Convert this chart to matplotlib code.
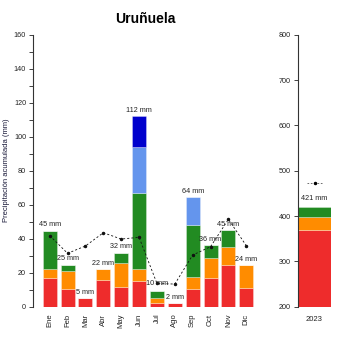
import matplotlib
matplotlib.use("Agg")
import matplotlib.pyplot as plt
import numpy as np

plt.rcParams['font.family'] = ['Liberation Sans', 'DejaVu Sans']

months = ["Ene", "Feb", "Mar", "Abr", "May", "Jun", "Jul", "Ago", "Sep", "Oct", "Nov", "Dic"]
# stacked components (mm)
red = [17, 10.2, 5, 16, 11.4, 15.3, 2, 2, 10.2, 17, 24.5, 11.2]
orange = [5, 11, 0, 6, 14.1, 6.7, 3.3, 0, 7.1, 11.5, 10.8, 13.3]
green = [22.5, 3.3, 0, 0, 6.3, 45, 4.1, 0, 30.7, 7.8, 9.7, 0]
lightblue = [0, 0, 0, 0, 0, 27, 0, 0, 16.7, 0, 0, 0]
darkblue = [0, 0, 0, 0, 0, 18.3, 0, 0, 0, 0, 0, 0]
totals = [45, 25, 5, 22, 32, 112, 10, 2, 64, 36, 45, 24]
reference = [41.8, 31.4, 35.7, 43.5, 39.8, 40.8, 13.7, 13.3, 30.4, 35.3, 51.4, 35.9]

year_label = ["2023"]
year_red = [369]
year_orange = [28]
year_green = [24]
year_total = [421]
year_reference = [472]

c_red = "#EE2C2C"
c_orange = "#FF8C00"
c_green = "#228B22"
c_lblue = "#6495ED"
c_dblue = "#0000CD"
text_col = "#222222"

fig = plt.figure(figsize=(3.5, 3.5), dpi=100)
W = H = 350.0
ax = fig.add_axes([33 / W, (350 - 306.7) / H, 230 / W, (306.7 - 34.7) / H])
ax2 = fig.add_axes([298 / W, (350 - 306.7) / H, 33 / W, (306.7 - 34.7) / H])

x = np.arange(len(months))
bw = 0.78
edge = dict(edgecolor=(1, 1, 1, 0.35), linewidth=0.6)
bottom = np.zeros(len(months))
for vals, col in [(red, c_red), (orange, c_orange), (green, c_green),
                  (lightblue, c_lblue), (darkblue, c_dblue)]:
    v = np.array(vals, dtype=float)
    ax.bar(x, v, bw, bottom=bottom, color=col, **edge)
    bottom = bottom + v

ax.plot(x, reference, color="#111111", linestyle=(0, (2.5, 2.5)), linewidth=0.6,
        marker="o", markersize=1.5, zorder=3)

for xi, t in zip(x, totals):
    ax.text(xi, t + 1.5, f"{t} mm", ha="center", va="bottom", fontsize=5.2, color=text_col)

ax.set_xlim(-0.935, len(months) - 1 + 0.935)
ax.set_ylim(0, 160)
ax.set_yticks(np.arange(0, 161, 20))
ax.set_yticks(np.arange(10, 160, 20), minor=True)
ax.tick_params(axis='y', which='both', length=3, width=0.6, labelsize=5.2, colors=text_col, pad=2)
ax.set_xticks(x)
ax.set_xticklabels(months, rotation=90)
ax.tick_params(axis='x', length=0, labelsize=5.5, colors=text_col, pad=5)
for s in ["top", "right", "bottom"]:
    ax.spines[s].set_visible(False)
ax.spines["left"].set_linewidth(0.8)
ax.spines["left"].set_color("#333333")
ax.set_ylabel("Precipitación acumulada (mm)", fontsize=5.5, color="#1a1a3a", labelpad=3)
ax.set_facecolor("none")

# annual panel
xb = np.arange(len(year_label))
b2 = np.zeros(1)
for vals, col in [(year_red, c_red), (year_orange, c_orange), (year_green, c_green)]:
    v = np.array(vals, dtype=float)
    ax2.bar(xb, v, 1.0, bottom=b2, color=col, **edge)
    b2 = b2 + v
ax2.plot([xb[0] - 0.22, xb[0] + 0.22], [year_reference[0]] * 2, color="#555555",
         linestyle=(0, (2, 2)), linewidth=0.6)
ax2.plot(xb, year_reference, "o", color="black", markersize=1.5)
ax2.text(xb[0], year_total[0] + 10, f"{year_total[0]} mm", ha="center", va="bottom",
         fontsize=5.2, color=text_col)
ax2.set_xlim(-0.5, 0.5)
ax2.set_ylim(200, 800)
ax2.set_yticks(np.arange(200, 801, 100))
ax2.tick_params(axis='y', length=3, width=0.6, labelsize=5.2, colors=text_col, pad=2)
ax2.set_xticks(xb)
ax2.set_xticklabels(year_label)
ax2.tick_params(axis='x', length=0, labelsize=5.5, colors=text_col, pad=7)
for s in ["top", "right", "bottom"]:
    ax2.spines[s].set_visible(False)
ax2.spines["left"].set_linewidth(0.8)
ax2.spines["left"].set_color("#333333")

fig.text(145 / W, 1 - 19 / H, "Uruñuela", ha="center", va="center", fontsize=10,
         fontweight="bold", color="black")

fig.savefig("out.png", dpi=100)
